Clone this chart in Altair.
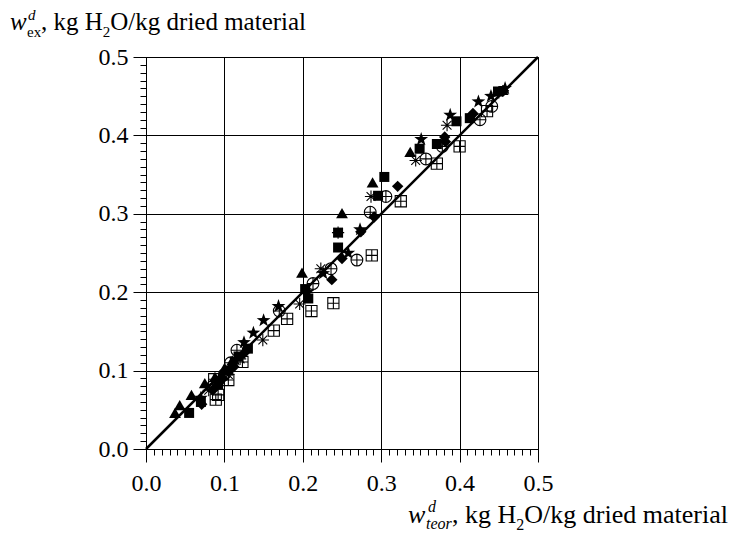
import altair as alt
import pandas as pd

FONT = "Liberation Serif"

# ---- data ----
tri_x = [0.037, 0.043, 0.058, 0.075, 0.088, 0.100, 0.110, 0.199, 0.250, 0.289, 0.337, 0.455]
tri_y = [0.046, 0.056, 0.069, 0.084, 0.092, 0.103, 0.113, 0.225, 0.301, 0.340, 0.379, 0.458]

sq_x = [0.055, 0.070, 0.092, 0.105, 0.118, 0.130, 0.203, 0.207, 0.245, 0.245, 0.296, 0.304, 0.349, 0.371, 0.396, 0.413, 0.449]
sq_y = [0.046, 0.060, 0.082, 0.100, 0.118, 0.128, 0.204, 0.192, 0.257, 0.276, 0.323, 0.347, 0.383, 0.389, 0.418, 0.422, 0.456]

dia_x = [0.071, 0.085, 0.098, 0.112, 0.125, 0.237, 0.250, 0.274, 0.291, 0.321, 0.381, 0.382, 0.417, 0.456]
dia_y = [0.057, 0.075, 0.090, 0.105, 0.122, 0.216, 0.243, 0.277, 0.296, 0.335, 0.398, 0.392, 0.428, 0.457]

star_x = [0.070, 0.090, 0.102, 0.114, 0.125, 0.137, 0.150, 0.169, 0.206, 0.226, 0.258, 0.273, 0.351, 0.388, 0.424, 0.440, 0.458]
star_y = [0.065, 0.085, 0.098, 0.114, 0.136, 0.148, 0.164, 0.182, 0.200, 0.224, 0.250, 0.280, 0.395, 0.426, 0.443, 0.450, 0.460]

ast_x = [0.080, 0.095, 0.105, 0.120, 0.149, 0.196, 0.223, 0.245, 0.287, 0.344, 0.384, 0.450]
ast_y = [0.075, 0.088, 0.095, 0.115, 0.139, 0.185, 0.230, 0.276, 0.322, 0.368, 0.413, 0.455]

cp_x = [0.085, 0.100, 0.108, 0.116, 0.170, 0.213, 0.236, 0.269, 0.286, 0.306, 0.357, 0.378, 0.426, 0.441]
cp_y = [0.080, 0.095, 0.110, 0.126, 0.176, 0.211, 0.230, 0.241, 0.302, 0.322, 0.370, 0.386, 0.420, 0.437]

sp_x = [0.087, 0.089, 0.092, 0.105, 0.123, 0.163, 0.180, 0.211, 0.239, 0.288, 0.325, 0.371, 0.400, 0.435]
sp_y = [0.089, 0.063, 0.069, 0.088, 0.111, 0.151, 0.166, 0.176, 0.186, 0.247, 0.316, 0.364, 0.386, 0.431]

line_x = [0.0, 0.5]
line_y = [0.0, 0.5]

major_ticks = [0.0, 0.1, 0.2, 0.3, 0.4, 0.5]
minor_ticks = [round(i / 100, 2) for i in range(1, 50) if i % 10 != 0]

# ---- shapes ----
STAR = ("M0,-1L0.235,-0.324L0.951,-0.309L0.380,0.124L0.588,0.809L0,0.4"
        "L-0.588,0.809L-0.380,0.124L-0.951,-0.309L-0.235,-0.324Z")
AST = "M-1,0L1,0M0,-1L0,1M-0.72,-0.72L0.72,0.72M-0.72,0.72L0.72,-0.72"
CPLUS = "M-1,0A1,1,0,1,1,1,0A1,1,0,1,1,-1,0ZM-1,0L1,0M0,-1L0,1"
SPLUS = "M-1,-1L1,-1L1,1L-1,1ZM-1,0L1,0M0,-1L0,1"

series = [
    ("tri", tri_x, tri_y, "triangle-up", True, 140),
    ("sq", sq_x, sq_y, "square", True, 100),
    ("dia", dia_x, dia_y, "diamond", True, 130),
    ("star", star_x, star_y, STAR, True, 210),
    ("ast", ast_x, ast_y, AST, False, 150),
    ("cp", cp_x, cp_y, CPLUS, False, 140),
    ("sp", sp_x, sp_y, SPLUS, False, 125),
]

df = pd.concat(
    [pd.DataFrame({"x": xs, "y": ys, "s": name}) for name, xs, ys, *_ in series],
    ignore_index=True,
)
line_df = pd.DataFrame({"x": line_x, "y": line_y})

xsc = alt.Scale(domain=[0, 0.5], nice=False, zero=False)
ysc = alt.Scale(domain=[0, 0.5], nice=False, zero=False)

common_axis = dict(
    title=None, domainColor="black", domainWidth=1, tickColor="black", tickWidth=1,
    labelFont=FONT, labelFontSize=24, labelColor="black", labelFlush=False,
    labelOverlap=False,
)

major_x = alt.Axis(orient="bottom", values=major_ticks, format=".1f", grid=True,
                   gridColor="black", gridWidth=1, gridOpacity=1, tickSize=13,
                   labelPadding=9, **common_axis)
major_y = alt.Axis(orient="left", values=major_ticks, format=".1f", grid=True,
                   gridColor="black", gridWidth=1, gridOpacity=1, tickSize=13,
                   labelPadding=5, **common_axis)
minor_x = alt.Axis(orient="bottom", values=minor_ticks, labels=False, grid=False,
                   domain=False, tickSize=6, tickColor="black", tickWidth=1, title=None)
minor_y = alt.Axis(orient="left", values=minor_ticks, labels=False, grid=False,
                   domain=False, tickSize=6, tickColor="black", tickWidth=1, title=None)

line = alt.Chart(line_df).mark_line(color="black", strokeWidth=2.5).encode(
    x=alt.X("x:Q", scale=xsc, axis=major_x),
    y=alt.Y("y:Q", scale=ysc, axis=major_y),
)
minor = alt.Chart(line_df).mark_line(opacity=0).encode(
    x=alt.X("x:Q", scale=xsc, axis=minor_x),
    y=alt.Y("y:Q", scale=ysc, axis=minor_y),
)

layers = [line, minor]
for name, _, _, shape, filled, size in series:
    kw = dict(shape=shape, filled=filled, size=size, color="black", opacity=1)
    if not filled:
        kw["strokeWidth"] = 1.1
    layers.append(
        alt.Chart(df).transform_filter(alt.datum.s == name).mark_point(**kw).encode(
            x=alt.X("x:Q", scale=xsc, axis=None),
            y=alt.Y("y:Q", scale=ysc, axis=None),
        )
    )

one = alt.InlineData(values=[{"k": 0}])


def txt(s, x, y, size, italic=False):
    kw = dict(font=FONT, fontSize=size, color="black", align="left", baseline="alphabetic")
    if italic:
        kw["fontStyle"] = "italic"
    return alt.Chart(one).mark_text(**kw).encode(
        x=alt.value(x), y=alt.value(y), text=alt.value(s)
    )


# y-axis title
layers += [
    txt("w", -136, -27, 25, True),
    txt("d", -118, -37, 15, True),
    txt("ex", -119, -20, 15),
    txt(", kg H", -105, -27, 25),
    txt("2", -43.2, -20, 15),
    txt("O/kg dried material", -35.7, -27, 25),
]
# x-axis title
layers += [
    txt("w", 262, 466, 26, True),
    txt("d", 282, 455, 16, True),
    txt("teor", 280, 472, 16, True),
    txt(", kg H", 306, 466, 26),
    txt("2", 370.3, 473, 16),
    txt("O/kg dried material", 378.3, 466, 26),
]

chart = (
    alt.layer(*layers)
    .resolve_axis(x="independent", y="independent")
    .properties(
        width=392,
        height=392,
        autosize=alt.AutoSizeParams(type="none"),
        padding={"left": 138, "top": 49, "right": 190, "bottom": 84},
        background="white",
    )
    .configure_view(stroke="black", strokeWidth=1)
)

chart.save("out.html", embed_options={"renderer": "svg", "actions": False})
